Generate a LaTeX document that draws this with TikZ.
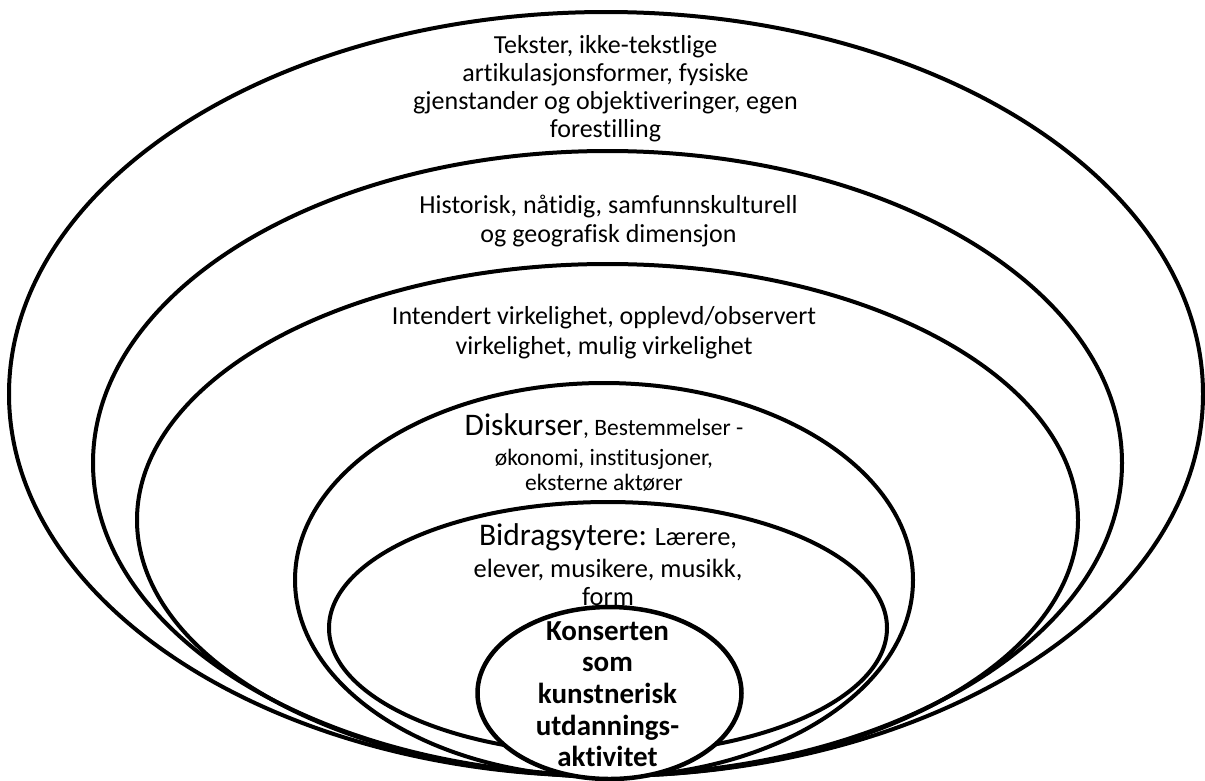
\documentclass[tikz,border=0pt]{standalone}
\usepackage{fontspec}
\setmainfont{Carlito}[Ligatures=NoCommon]
\begin{document}
\begin{tikzpicture}[x=1pt,y=-1pt,
  ring/.style={draw=black,line width=4pt},
  core/.style={draw=black,line width=4.5pt,fill=white},
  lbl/.style={align=center,inner sep=0pt,anchor=north}]
\useasboundingbox (0,0) rectangle (1205,780);

% nested rings, outermost first
\draw[ring] (606,394) ellipse [x radius=597pt, y radius=382pt];
\draw[ring] (607.5,463) ellipse [x radius=514.5pt, y radius=312pt];
\draw[ring] (607.5,520) ellipse [x radius=470.5pt, y radius=256pt];
\draw[ring] (604,580) ellipse [x radius=309pt, y radius=197pt];
\draw[ring] (608,628) ellipse [x radius=279pt, y radius=126pt];
\draw[core] (609.5,693) ellipse [x radius=132pt, y radius=86pt];

% ring labels
\node[lbl,font=\fontsize{26}{28}\selectfont] (tekster) at (605.5,35.5)
  {Tekster, ikke-tekstlige\\artikulasjonsformer, fysiske\\gjenstander og objektiveringer, egen\\forestilling};
\node[lbl,font=\fontsize{26}{29}\selectfont] (historisk) at (608.5,195)
  {Historisk, nåtidig, samfunnskulturell\\og geografisk dimensjon};
\node[lbl,font=\fontsize{26}{30}\selectfont] (intendert) at (604,306.5)
  {Intendert virkelighet, opplevd/observert\\virkelighet, mulig virkelighet};
\node[lbl,font=\fontsize{23.5}{25}\selectfont] (diskurser) at (604,413)
  {{\fontsize{31.4}{25}\selectfont Diskurser}, Bestemmelser -\\[5pt]økonomi, institusjoner,\\eksterne aktører};
\node[lbl,font=\fontsize{26.4}{28}\selectfont] (bidrag) at (608,523)
  {{\fontsize{31.5}{28}\selectfont Bidragsytere:} Lærere,\\[4pt]elever, musikere, musikk,\\form};
\node[lbl,font=\bfseries\fontsize{29}{31.7}\selectfont] (konserten) at (607.5,621)
  {Konserten\\som\\kunstnerisk\\utdannings-\\aktivitet};
\end{tikzpicture}
\end{document}
